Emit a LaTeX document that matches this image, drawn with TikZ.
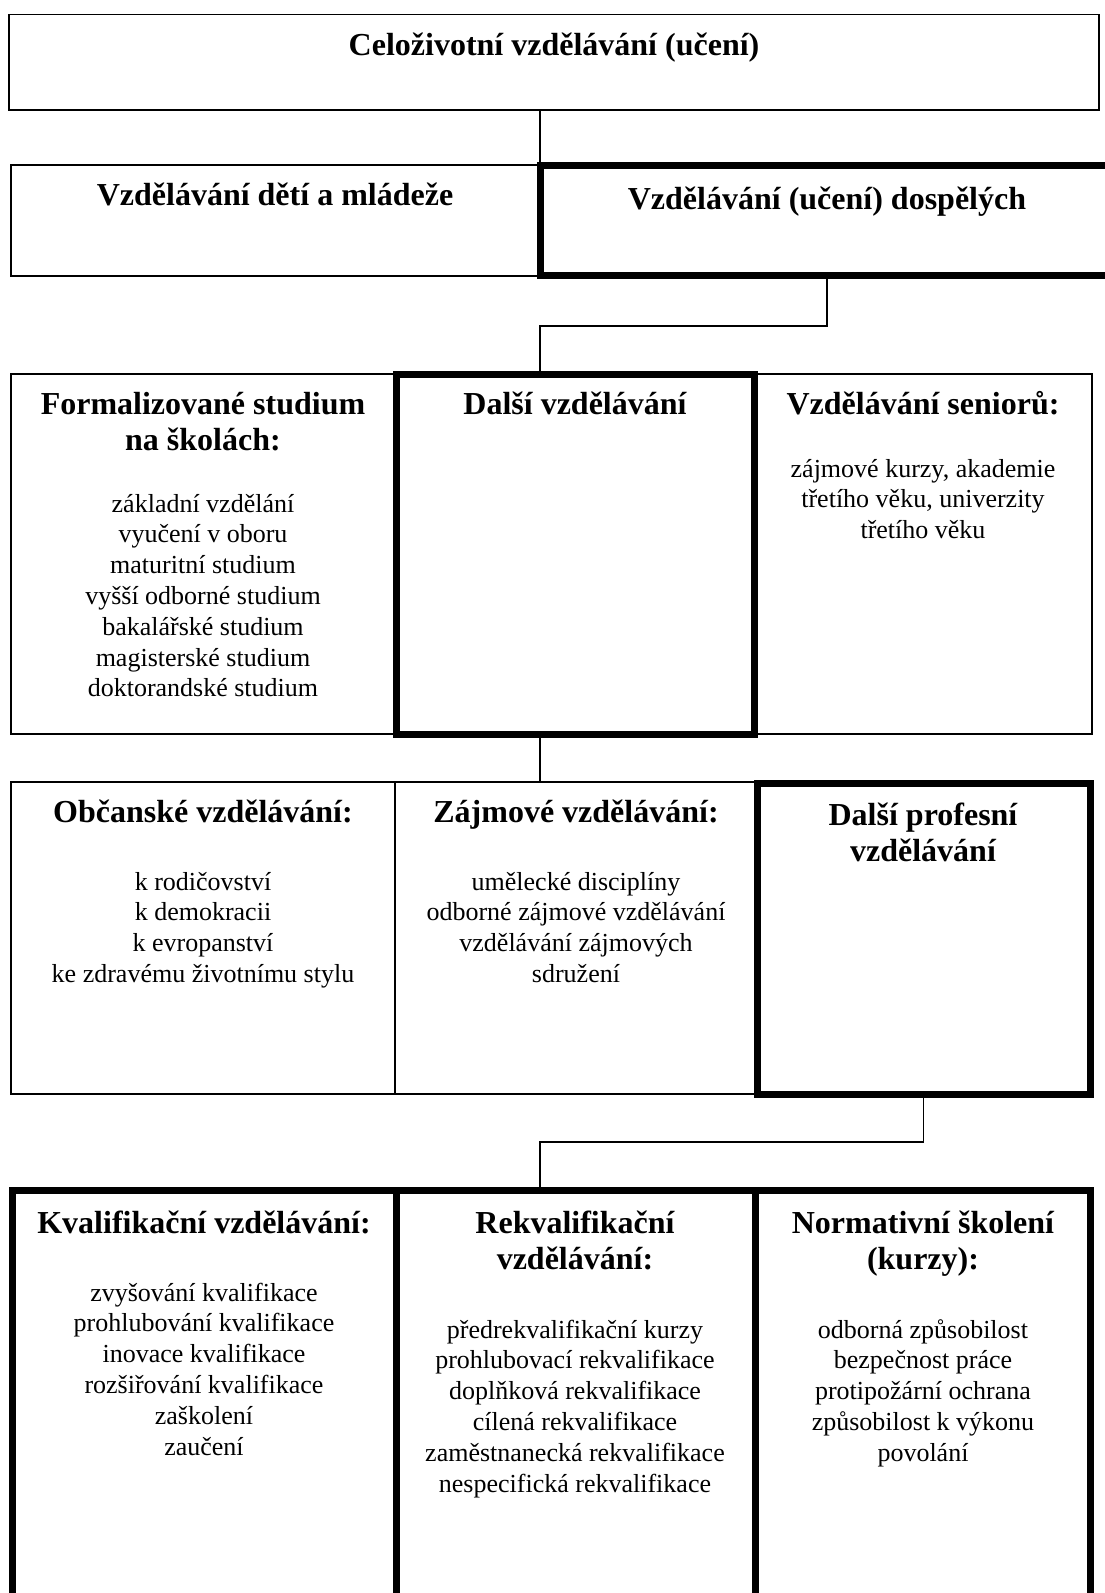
\documentclass[tikz,border=0pt]{standalone}
\usepackage{fontspec}
\setmainfont{Liberation Serif}
% centred lines in a \vtop, so that the base anchor sits on the first line
\newcommand\stackln[1]{\vtop{\halign{\hfil##\hfil\cr#1\crcr}}}
\begin{document}
\begin{tikzpicture}[x=1pt,y=-1pt,
  box/.style={draw,rectangle,inner sep=0pt,outer sep=0pt,line width=1.3pt},
  heavy/.style={box,line width=7pt},
  link/.style={line width=1.3pt},
  ttl/.style={anchor=base,inner sep=0pt,font=\fontsize{32}{36.8}\selectfont\bfseries},
  txt/.style={anchor=base,inner sep=0pt,font=\fontsize{26}{30.8}\selectfont}]
\useasboundingbox (0,0) rectangle (1105,1593);
\clip (0,0) rectangle (1105,1593);

% --- boxes with thin borders
\node[box,minimum width=1090pt,minimum height=95.5pt] (top) at (554,62.25) {};
\node[box,minimum width=529.5pt,minimum height=111pt] (kids) at (275.75,220.5) {};
\node[box,minimum width=385pt,minimum height=360pt] (formal) at (203.5,554) {};
\node[box,minimum width=338pt,minimum height=360pt] (senior) at (923,554) {};
\node[box,minimum width=384pt,minimum height=312pt] (civic) at (203,938) {};
\node[box,minimum width=362pt,minimum height=312pt] (hobby) at (576,938) {};

% --- boxes with heavy borders
\node[heavy,minimum width=574.5pt,minimum height=110pt] (adult) at (827.75,220.5) {};
\node[heavy,minimum width=358pt,minimum height=360pt] (further) at (575,554) {};
\node[heavy,minimum width=333.5pt,minimum height=311.5pt] (prof) at (923.75,938.75) {};
\node[heavy,minimum width=384pt,minimum height=459.5pt] (qual) at (204,1420.25) {};
\node[heavy,minimum width=359.5pt,minimum height=459.5pt] (rekv) at (575.75,1420.25) {};
\node[heavy,minimum width=335pt,minimum height=459.5pt] (norm) at (923,1420.25) {};

% --- connectors
\coordinate (j1) at (827,326);
\coordinate (j2) at (540,326);
\coordinate (j3) at (923.75,1142);
\coordinate (j4) at (540,1142);
\draw[link] (top.south -| j2) -- (adult.north -| j2);
\draw[link] (adult.south -| j1) -- (j1) -- (j2) -- (further.north -| j2);
\draw[link] (further.south -| j2) -- (hobby.north -| j2);
\draw[link] (prof.south) -- (j3) -- (j4) -- (rekv.north -| j4);

% --- texts
\node[ttl] (t1) at (554,55) {Celoživotní vzdělávání (učení)};
\node[ttl] (t2) at (275,205) {Vzdělávání dětí a mládeže};
\node[ttl] (t3) at (827,209) {Vzdělávání (učení) dospělých};

\node[ttl] (t4) at (203,414) {\stackln{Formalizované studium\cr na školách:}};
\node[txt] (t5) at (203,512) {\stackln{základní vzdělání\cr vyučení v oboru\cr maturitní studium\cr vyšší odborné studium\cr bakalářské studium\cr magisterské studium\cr doktorandské studium}};
\node[ttl] (t6) at (575,414) {Další vzdělávání};
\node[ttl] (t7) at (923,414) {Vzdělávání seniorů:};
\node[txt] (t8) at (923,477) {\stackln{zájmové kurzy, akademie\cr třetího věku, univerzity\cr třetího věku}};

\node[ttl] (t9) at (203,822) {Občanské vzdělávání:};
\node[txt] (t10) at (203,890) {\stackln{k rodičovství\cr k demokracii\cr k evropanství\cr ke zdravému životnímu stylu}};
\node[ttl] (t11) at (576,822) {Zájmové vzdělávání:};
\node[txt] (t12) at (576,890) {\stackln{umělecké disciplíny\cr odborné zájmové vzdělávání\cr vzdělávání zájmových\cr sdružení}};
\node[ttl] (t13) at (923,825) {\stackln{Další profesní\cr vzdělávání}};

\node[ttl] (t14) at (204,1233) {Kvalifikační vzdělávání:};
\node[txt] (t15) at (204,1301) {\stackln{zvyšování kvalifikace\cr prohlubování kvalifikace\cr inovace kvalifikace\cr rozšiřování kvalifikace\cr zaškolení\cr zaučení}};
\node[ttl] (t16) at (575,1233) {\stackln{Rekvalifikační\cr vzdělávání:}};
\node[txt] (t17) at (575,1338) {\stackln{předrekvalifikační kurzy\cr prohlubovací rekvalifikace\cr doplňková rekvalifikace\cr cílená rekvalifikace\cr zaměstnanecká rekvalifikace\cr nespecifická rekvalifikace}};
\node[ttl] (t18) at (923,1233) {\stackln{Normativní školení\cr (kurzy):}};
\node[txt] (t19) at (923,1338) {\stackln{odborná způsobilost\cr bezpečnost práce\cr protipožární ochrana\cr způsobilost k výkonu\cr povolání}};
\end{tikzpicture}
\end{document}
